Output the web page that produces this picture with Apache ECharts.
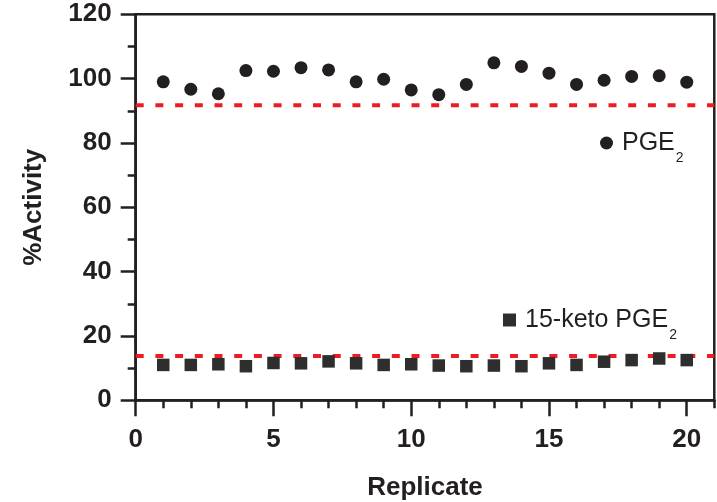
<!DOCTYPE html>
<html>
<head>
<meta charset="utf-8">
<script src="https://cdn.jsdelivr.net/npm/echarts@6/dist/echarts.min.js"></script>
<style>
html,body{margin:0;padding:0;background:#fff;}
#chart{width:717px;height:502px;}
</style>
</head>
<body>
<div id="chart"></div>
<script>
var replicates = [1,2,3,4,5,6,7,8,9,10,11,12,13,14,15,16,17,18,19,20];
var pgeValues = [99.0,96.7,95.3,102.5,102.3,103.4,102.7,99.0,99.8,96.5,95.0,98.2,104.9,103.8,101.7,98.2,99.5,100.7,100.9,98.9];
var ketoValues = [11.0,11.0,11.2,10.6,11.6,11.5,12.1,11.5,11.0,11.2,10.8,10.6,10.8,10.6,11.5,11.0,12.0,12.5,13.0,12.5];
var pgeLimit = 91.7;
var ketoLimit = 13.8;
var limitX = [0, 21];
var xMajorTicks = [0, 5, 10, 15, 20];
var yTicks = [0, 20, 40, 60, 80, 100, 120];

var INK = '#231f20';
var RED = '#ed1c24';
var FONT = '"Liberation Sans", Arial, Helvetica, sans-serif';

function pairs(xs, ys){ return xs.map(function(x,i){ return [x, ys[i]]; }); }
function limitLine(v){ return limitX.map(function(x){ return [x, v]; }); }

var chart = echarts.init(document.getElementById('chart'), null, {renderer:'canvas'});

var legendRich = {
  a: {fontFamily: FONT, fontSize: 25, color: INK, lineHeight: 28, verticalAlign: 'top', padding: [2,0,0,4]},
  s: {fontFamily: FONT, fontSize: 14, color: INK, lineHeight: 14, verticalAlign: 'top', padding: [22,0,0,1]}
};
function legendFmt(name){
  if (name === 'PGE2') return '{a|PGE}{s|2}';
  return '{a|15-keto PGE}{s|2}';
}

chart.setOption({
  animation: false,
  backgroundColor: '#fff',
  grid: {left: 135.7, right: 2.7, top: 14.3, bottom: 101.7, containLabel: false, outerBoundsMode: 'none',
         show: true, borderColor: INK, borderWidth: 2.5, backgroundColor: 'transparent'},
  legend: [
    {data: [{name: 'PGE2', icon: 'circle'}], left: 600, top: 129, padding: 0, itemWidth: 13, itemHeight: 13,
     formatter: legendFmt, textStyle: {rich: legendRich}},
    {data: [{name: '15-keto PGE2', icon: 'rect'}], left: 503, top: 306, padding: 0, itemWidth: 13, itemHeight: 13,
     formatter: legendFmt, textStyle: {rich: legendRich}}
  ],
  xAxis: [
    {type: 'value', min: 0, max: 21, interval: 5, position: 'bottom',
     name: 'Replicate', nameLocation: 'middle', nameGap: 75,
     nameTextStyle: {fontFamily: FONT, fontSize: 26, fontWeight: 'bold', color: INK},
     axisLine: {show: true, lineStyle: {color: INK, width: 2.5}},
     axisTick: {show: true, inside: false, length: 16, lineStyle: {color: INK, width: 2.5}, customValues: xMajorTicks},
     axisLabel: {show: true, margin: 27, fontFamily: FONT, fontSize: 26, fontWeight: 'bold', color: INK, customValues: xMajorTicks},
     splitLine: {show: false}},
    {type: 'value', min: 0, max: 21, interval: 1, position: 'bottom',
     axisLine: {show: false},
     axisTick: {show: true, inside: false, length: 8, lineStyle: {color: INK, width: 2.5}},
     axisLabel: {show: false}, splitLine: {show: false}}
  ],
  yAxis: [
    {type: 'value', min: 0, max: 120, interval: 20,
     name: '%Activity', nameLocation: 'middle', nameGap: 89, nameRotate: 90,
     nameTextStyle: {fontFamily: FONT, fontSize: 26, fontWeight: 'bold', color: INK},
     axisLine: {show: true, lineStyle: {color: INK, width: 2.5}},
     axisTick: {show: true, inside: false, length: 15, lineStyle: {color: INK, width: 2.5}},
     minorTick: {show: true, splitNumber: 2, length: 8, lineStyle: {color: INK, width: 2.5}},
     axisLabel: {show: true, margin: 24, fontFamily: FONT, fontSize: 26, fontWeight: 'bold', color: INK},
     splitLine: {show: false}}
  ],
  series: [
    {name: 'pgeLimit', type: 'line', data: limitLine(pgeLimit), symbol: 'none', z: 1,
     lineStyle: {color: RED, width: 4, type: [8, 11.7], cap: 'butt'}},
    {name: 'ketoLimit', type: 'line', data: limitLine(ketoLimit), symbol: 'none', z: 1,
     lineStyle: {color: RED, width: 4, type: [8, 11.7], cap: 'butt'}},
    {name: 'PGE2', type: 'scatter', data: pairs(replicates, pgeValues), symbol: 'circle', symbolSize: 13, z: 3,
     itemStyle: {color: INK, opacity: 1}},
    {name: '15-keto PGE2', type: 'scatter', data: pairs(replicates, ketoValues), symbol: 'rect', symbolSize: 12.5, z: 3,
     itemStyle: {color: '#2e2e2e', opacity: 1}}
  ]
});
</script>
</body>
</html>
